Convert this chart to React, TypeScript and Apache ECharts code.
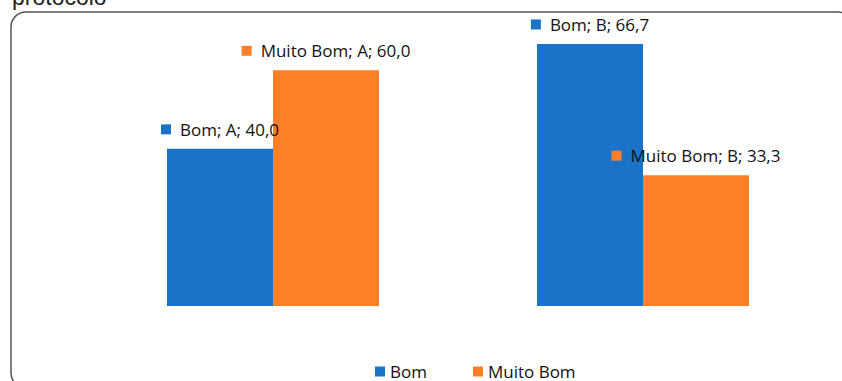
import React, { useEffect, useRef } from "react";
import * as echarts from "echarts";

const categories = ["A", "B"];
const seriesNames = ["Bom", "Muito Bom"];
const bomValues = [40.0, 66.7];
const muitoBomValues = [60.0, 33.3];
const colors = ["#1a73c9", "#fe7f27"];
const titleText = "protocolo";

const FONT = "'Open Sans', 'Noto Sans', sans-serif";
const TITLE_FONT = "'Liberation Sans', Arial, sans-serif";

export default function App() {
  const ref = useRef<HTMLDivElement>(null);
  useEffect(() => {
    if (!ref.current) return;
    const chart = echarts.init(ref.current, null, { renderer: "svg" });
    const makeLabel = (name: string, idx: number) => ({
      show: true,
      position: "top",
      distance: 11,
      formatter: (p: any) =>
        `{m|}{t|${name}; ${p.name}; ${Number(p.value).toFixed(1).replace(".", ",")}}`,
      rich: {
        m: { width: 10, height: 10, backgroundColor: colors[idx] },
        t: { fontSize: 17, color: "#111", fontFamily: FONT, padding: [0, 0, 0, 9] },
      },
    });
    chart.setOption({
      animation: false,
      color: colors,
      textStyle: { fontFamily: FONT },
      graphic: [
        {
          type: "text",
          left: 12,
          top: -15,
          style: { text: titleText, fill: "#222", font: `23px ${TITLE_FONT}` },
        },
        {
          type: "rect",
          shape: { x: 11, y: 12, width: 842, height: 376, r: 15 },
          style: { fill: "none", stroke: "#555", lineWidth: 1.5 },
        },
      ],
      legend: {
        data: seriesNames,
        top: 363,
        left: 375,
        padding: 0,
        icon: "rect",
        itemWidth: 10,
        itemHeight: 10,
        itemGap: 46,
        textStyle: { fontSize: 17, lineHeight: 16, color: "#111", fontFamily: FONT },
      },
      grid: { left: 88, right: 14, top: 31, height: 275, containLabel: false },
      xAxis: {
        type: "category",
        data: categories,
        axisLine: { show: false },
        axisTick: { show: false },
        axisLabel: { show: false },
      },
      yAxis: {
        type: "value",
        min: 0,
        max: 70,
        show: false,
        splitLine: { show: false },
      },
      series: [
        {
          name: seriesNames[0],
          type: "bar",
          data: bomValues,
          barWidth: 106,
          barGap: "0%",
          label: makeLabel(seriesNames[0], 0),
        },
        {
          name: seriesNames[1],
          type: "bar",
          data: muitoBomValues,
          barWidth: 106,
          barGap: "0%",
          label: makeLabel(seriesNames[1], 1),
        },
      ],
    });
    return () => chart.dispose();
  }, []);
  return (
    <div
      ref={ref}
      style={{ position: "fixed", left: 0, top: 0, width: 842, height: 381, background: "#fff" }}
    />
  );
}
